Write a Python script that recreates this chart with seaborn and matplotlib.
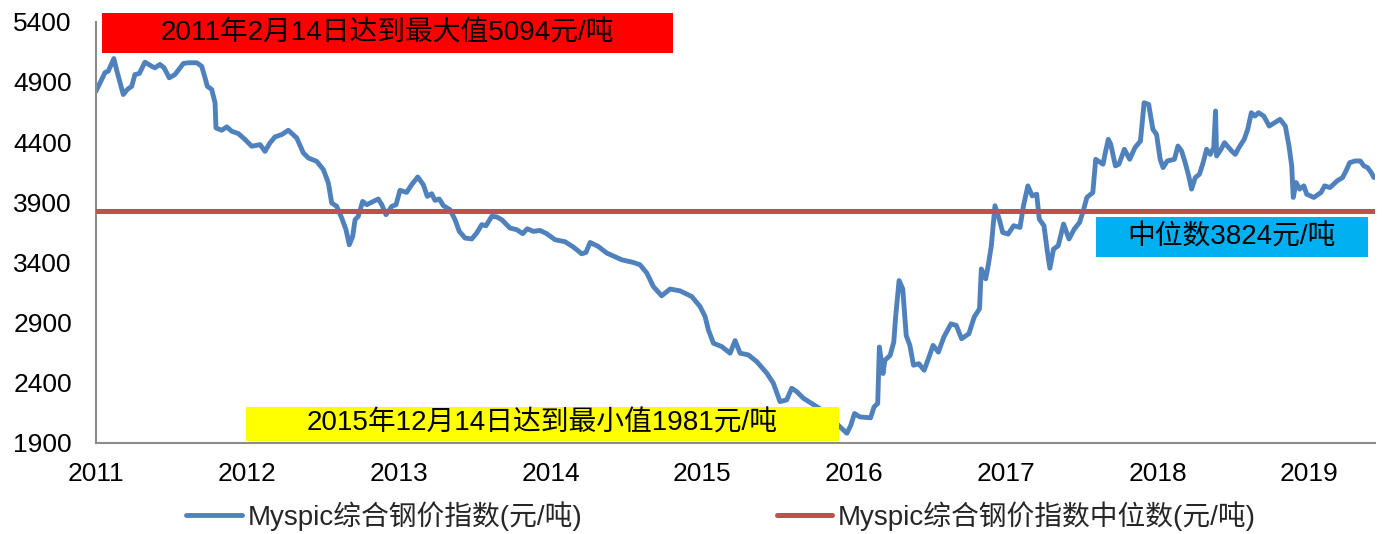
import numpy as np
import pandas as pd
import matplotlib
matplotlib.use("Agg")
import matplotlib.pyplot as plt
from matplotlib.patches import Rectangle
import seaborn as sns

# ---------------- data ----------------
years = [
    2011.003, 2011.063, 2011.084, 2011.121, 2011.140, 2011.183, 2011.210, 2011.239, 2011.260, 2011.289,
    2011.326, 2011.370, 2011.392, 2011.425, 2011.452, 2011.486, 2011.524, 2011.579, 2011.612, 2011.667,
    2011.700, 2011.722, 2011.737, 2011.766, 2011.788, 2011.794, 2011.832, 2011.865, 2011.898, 2011.941,
    2011.986, 2012.030, 2012.085, 2012.117, 2012.150, 2012.183, 2012.227, 2012.271, 2012.326, 2012.370,
    2012.403, 2012.458, 2012.502, 2012.535, 2012.557, 2012.590, 2012.623, 2012.651, 2012.673, 2012.695,
    2012.711, 2012.732, 2012.761, 2012.788, 2012.831, 2012.864, 2012.887, 2012.915, 2012.953, 2012.981,
    2013.007, 2013.051, 2013.084, 2013.124, 2013.161, 2013.187, 2013.216, 2013.238, 2013.266, 2013.293,
    2013.337, 2013.370, 2013.398, 2013.436, 2013.480, 2013.513, 2013.546, 2013.574, 2013.612, 2013.645,
    2013.678, 2013.732, 2013.777, 2013.816, 2013.846, 2013.886, 2013.930, 2013.974, 2014.029, 2014.095,
    2014.150, 2014.205, 2014.233, 2014.260, 2014.314, 2014.370, 2014.469, 2014.545, 2014.589, 2014.634,
    2014.677, 2014.732, 2014.787, 2014.853, 2014.930, 2014.985, 2015.018, 2015.040, 2015.073, 2015.128,
    2015.183, 2015.216, 2015.249, 2015.303, 2015.359, 2015.425, 2015.468, 2015.512, 2015.556, 2015.589,
    2015.622, 2015.666, 2015.754, 2015.809, 2015.862, 2015.908, 2015.953, 2015.979, 2016.003, 2016.038,
    2016.109, 2016.132, 2016.156, 2016.167, 2016.191, 2016.203, 2016.238, 2016.262, 2016.274, 2016.297,
    2016.321, 2016.344, 2016.368, 2016.392, 2016.427, 2016.462, 2016.498, 2016.521, 2016.556, 2016.592,
    2016.639, 2016.674, 2016.709, 2016.757, 2016.792, 2016.827, 2016.839, 2016.868, 2016.886, 2016.905,
    2016.929, 2016.957, 2016.980, 2017.016, 2017.052, 2017.094, 2017.117, 2017.146, 2017.174, 2017.204,
    2017.221, 2017.252, 2017.275, 2017.291, 2017.315, 2017.346, 2017.381, 2017.417, 2017.452, 2017.487,
    2017.511, 2017.535, 2017.574, 2017.593, 2017.641, 2017.659, 2017.676, 2017.692, 2017.723, 2017.746,
    2017.782, 2017.817, 2017.852, 2017.888, 2017.912, 2017.942, 2017.970, 2017.994, 2018.018, 2018.037,
    2018.065, 2018.112, 2018.135, 2018.159, 2018.183, 2018.206, 2018.225, 2018.249, 2018.277, 2018.301,
    2018.324, 2018.348, 2018.371, 2018.383, 2018.390, 2018.419, 2018.442, 2018.489, 2018.513, 2018.537,
    2018.572, 2018.595, 2018.619, 2018.643, 2018.666, 2018.701, 2018.737, 2018.772, 2018.808, 2018.843,
    2018.867, 2018.885, 2018.895, 2018.914, 2018.937, 2018.965, 2018.984, 2019.031, 2019.078, 2019.102,
    2019.137, 2019.185, 2019.220, 2019.243, 2019.267, 2019.303, 2019.337, 2019.361, 2019.385, 2019.409,
    2019.427,
]
price_index = [
    4822, 4978, 4989, 5094, 4995, 4795, 4837, 4864, 4961, 4970,
    5064, 5030, 5017, 5045, 5017, 4934, 4961, 5053, 5059, 5059,
    5030, 4934, 4864, 4837, 4726, 4518, 4498, 4526, 4490, 4471,
    4421, 4365, 4379, 4323, 4393, 4443, 4462, 4498, 4435, 4310,
    4268, 4240, 4171, 4060, 3894, 3866, 3769, 3672, 3547, 3616,
    3755, 3783, 3907, 3880, 3907, 3927, 3880, 3797, 3866, 3880,
    3999, 3982, 4046, 4110, 4046, 3949, 3971, 3916, 3927, 3872,
    3838, 3755, 3658, 3603, 3595, 3645, 3714, 3705, 3783, 3778,
    3755, 3686, 3672, 3639, 3680, 3658, 3666, 3639, 3589, 3572,
    3528, 3472, 3483, 3566, 3533, 3478, 3422, 3400, 3381, 3312,
    3200, 3123, 3179, 3164, 3117, 3034, 2951, 2840, 2729, 2701,
    2646, 2751, 2646, 2632, 2576, 2480, 2397, 2244, 2258, 2355,
    2327, 2272, 2202, 2158, 2091, 2033, 1981, 2048, 2145, 2117,
    2109, 2200, 2228, 2697, 2477, 2587, 2628, 2739, 2946, 3249,
    3180, 2793, 2711, 2546, 2559, 2504, 2628, 2711, 2655, 2780,
    2890, 2877, 2766, 2808, 2946, 3015, 3346, 3264, 3387, 3539,
    3871, 3760, 3649, 3636, 3705, 3691, 3871, 4036, 3953, 3967,
    3760, 3705, 3484, 3352, 3511, 3539, 3719, 3595, 3678, 3733,
    3829, 3940, 3981, 4257, 4216, 4326, 4423, 4382, 4202, 4216,
    4340, 4257, 4354, 4409, 4727, 4713, 4506, 4464, 4257, 4188,
    4243, 4257, 4367, 4326, 4229, 4119, 4009, 4105, 4133, 4229,
    4340, 4298, 4354, 4658, 4285, 4340, 4395, 4326, 4298, 4354,
    4423, 4506, 4644, 4616, 4644, 4616, 4533, 4561, 4589, 4533,
    4367, 4202, 3940, 4064, 4009, 4036, 3967, 3940, 3981, 4036,
    4022, 4078, 4105, 4160, 4229, 4243, 4243, 4202, 4188, 4146,
    4105,
]
median_value = 3824
series_names = ["Myspic综合钢价指数(元/吨)", "Myspic综合钢价指数中位数(元/吨)"]
year_ticks = [2011, 2012, 2013, 2014, 2015, 2016, 2017, 2018, 2019]
value_ticks = [1900, 2400, 2900, 3400, 3900, 4400, 4900, 5400]
note_max = "2011年2月14日达到最大值5094元/吨"
note_min = "2015年12月14日达到最小值1981元/吨"
note_median = "中位数3824元/吨"

# ---------------- style ----------------
sns.set_style("white")
plt.rcParams["font.family"] = ["Liberation Sans", "Noto Sans CJK SC", "DejaVu Sans"]

BLUE = "#4F81BD"
RED = "#C0504D"
GRAY = "#8C8C8C"
FS_TICK = 19
FS_TEXT = 20

W, H = 1383, 534
fig = plt.figure(figsize=(W / 100, H / 100), dpi=100)
ax = fig.add_axes([95.5 / W, 1 - 443 / H, (1375 - 95.5) / W, (443 - 21.7) / H])

df = pd.DataFrame({"year": years, "value": price_index})
sns.lineplot(data=df, x="year", y="value", ax=ax, color=BLUE, linewidth=3.5,
             label=series_names[0], zorder=2)
ax.axhline(median_value, color=RED, linewidth=3.6, label=series_names[1], zorder=3)

ax.set_xlim(2011, 2019.434)
ax.set_ylim(1900, 5400)
ax.set_xticks(year_ticks)
ax.set_xticklabels([str(y) for y in year_ticks])
ax.set_yticks(value_ticks)
ax.set_yticklabels([str(v) for v in value_ticks])
ax.set_xlabel("")
ax.set_ylabel("")

for side in ["top", "right"]:
    ax.spines[side].set_visible(False)
for side in ["left", "bottom"]:
    ax.spines[side].set_color(GRAY)
    ax.spines[side].set_linewidth(1.5)
ax.tick_params(axis="both", which="major", direction="out", length=6, width=1.2,
               color=GRAY, labelsize=FS_TICK, labelcolor="black")
ax.tick_params(axis="y", pad=11)
ax.tick_params(axis="x", pad=8)

# annotation boxes (figure-fraction rectangles) with centered text
def note_box(x0, y0, x1, y1, color, text):
    fx0, fx1 = x0 / W, x1 / W
    fy0, fy1 = 1 - y1 / H, 1 - y0 / H
    fig.patches.append(Rectangle((fx0, fy0), fx1 - fx0, fy1 - fy0, transform=fig.transFigure,
                                 facecolor=color, edgecolor="none", zorder=5))
    fig.text((fx0 + fx1) / 2, (fy0 + fy1) / 2, text, ha="center", va="center",
             fontsize=FS_TEXT, color="black", zorder=6)

note_box(102, 12.7, 673, 53.3, "#FF0000", note_max)
note_box(246, 406.5, 838.5, 440.5, "#FFFF00", note_min)
note_box(1095.5, 217, 1368, 257, "#00B0F0", note_median)

handles, labels = ax.get_legend_handles_labels()
if ax.get_legend() is not None:
    ax.get_legend().remove()
fig.legend(handles, labels, loc="center", bbox_to_anchor=(721 / W, 1 - 516 / H), ncol=2,
           frameon=False, fontsize=FS_TEXT, handlelength=2.0, handletextpad=0.2,
           columnspacing=7.0, borderaxespad=0)

fig.savefig("out.png", dpi=100)
